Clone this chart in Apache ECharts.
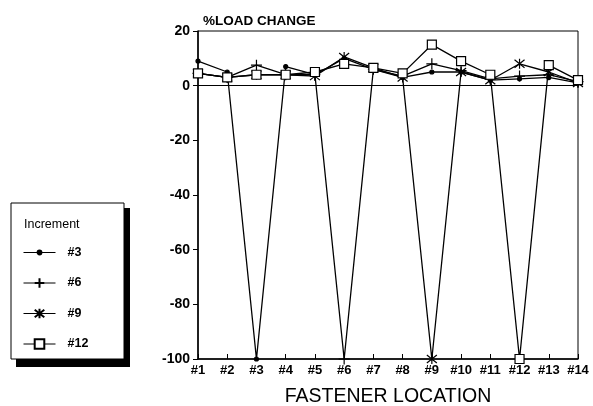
<!DOCTYPE html>
<html>
<head>
<meta charset="utf-8">
<script src="https://cdn.jsdelivr.net/npm/echarts@6/dist/echarts.min.js"></script>
<style>
  html, body { margin: 0; padding: 0; background: #fff; }
  #chart { width: 593px; height: 406px; }
</style>
</head>
<body>
<div id="chart"></div>
<script>
// fastener locations
var locations = ["#1", "#2", "#3", "#4", "#5", "#6", "#7", "#8", "#9", "#10", "#11", "#12", "#13", "#14"];
// % load change per increment
var inc3 = [9, 5, -100, 7, 4, 10, 6, 3, 5, 5, 2, 2.5, 3, 1];
var inc6 = [4.5, 3, 7.5, 4, 4, -100, 6, 3.5, 8, 5.5, 2.5, 3.5, 4, 1.5];
var inc9 = [4.5, 3, 4, 4, 3.5, 10.5, 6.5, 3, -100, 5, 2, 8, 5, 1];
var inc12 = [4.5, 3, 4, 4, 5, 8, 6.5, 4.5, 15, 9, 4, -100, 7.5, 2];
var yTicks = [-100, -80, -60, -40, -20, 0, 20];

var font = "'Liberation Sans', Arial, sans-serif";
// small dot inside a 10x10 box so the legend keeps it small too
var dotPath = "path://M0,0M10,10M5,3A2,2,0,1,1,4.99,3Z";
var plusPath = "path://M5,0L5,10M0,5L10,5";
var starPath = "path://M5,0L5,10M1,1L9,9M1,9L9,1";

function makeSeries(name, data, symbol, size, fill) {
  return {
    name: name,
    type: "line",
    data: data,
    symbol: symbol,
    symbolSize: size,
    showAllSymbol: true,
    lineStyle: { color: "#000", width: 1.3 },
    itemStyle: { color: fill, borderColor: "#000", borderWidth: 1.2 },
    emphasis: { disabled: true },
    z: 3
  };
}

var myChart = echarts.init(document.getElementById("chart"));

var series = [
  makeSeries("#3", inc3, dotPath, 10, "#000"),
  makeSeries("#6", inc6, plusPath, 11, "#000"),
  makeSeries("#9", inc9, starPath, 10, "#000"),
  makeSeries("#12", inc12, "rect", 9, "#fff")
];
// zero reference line
series[0].markLine = {
  silent: true,
  symbol: "none",
  label: { show: false },
  lineStyle: { color: "#000", width: 1, type: "solid" },
  data: [{ yAxis: 0 }]
};

var option = {
  backgroundColor: "#fff",
  animation: false,
  textStyle: { fontFamily: font },
  title: {
    text: "%LOAD CHANGE",
    left: 198,
    top: 9,
    textStyle: { fontFamily: font, fontSize: 13.5, fontWeight: "bold", color: "#000" }
  },
  grid: {
    left: 198,
    right: 15,
    top: 31,
    bottom: 47,
    outerBoundsMode: "none",
    show: true,
    borderColor: "#000",
    borderWidth: 1
  },
  legend: {
    orient: "vertical",
    left: 23,
    top: 246,
    data: ["#3", "#6", "#9", "#12"],
    itemWidth: 32,
    itemHeight: 12,
    itemGap: 17.5,
    padding: 0,
    lineStyle: { width: 1 },
    textStyle: { fontFamily: font, fontSize: 12.5, fontWeight: "bold", color: "#000", padding: [0, 0, 0, 7] }
  },
  graphic: [
    { type: "rect", z: 0, shape: { x: 16, y: 208, width: 114, height: 159 }, style: { fill: "#000" } },
    { type: "rect", z: 1, shape: { x: 11, y: 203, width: 113, height: 156 }, style: { fill: "#fff", stroke: "#000", lineWidth: 1 } },
    {
      type: "text",
      z: 2,
      left: 24,
      top: 218,
      style: { text: "Increment", fontFamily: font, fontSize: 12.5, fill: "#000" }
    }
  ],
  xAxis: {
    type: "category",
    data: locations,
    boundaryGap: false,
    name: "FASTENER LOCATION",
    nameLocation: "middle",
    nameGap: 28,
    nameTextStyle: { fontFamily: font, fontSize: 19.5, color: "#000" },
    axisLine: { onZero: false, lineStyle: { color: "#000", width: 1.5 } },
    axisTick: { inside: true, length: 5, lineStyle: { color: "#000" } },
    axisLabel: { fontFamily: font, fontSize: 13, fontWeight: "bold", color: "#000", margin: 5 },
    splitLine: { show: false }
  },
  yAxis: {
    type: "value",
    min: yTicks[0],
    max: yTicks[yTicks.length - 1],
    interval: 20,
    axisLine: { show: true, lineStyle: { color: "#000", width: 1.5 } },
    axisTick: { show: true, inside: false, length: 5, lineStyle: { color: "#000" } },
    axisLabel: { fontFamily: font, fontSize: 14, fontWeight: "bold", color: "#000", margin: 8 },
    splitLine: { show: false }
  },
  series: series
};

myChart.setOption(option);
</script>
</body>
</html>
